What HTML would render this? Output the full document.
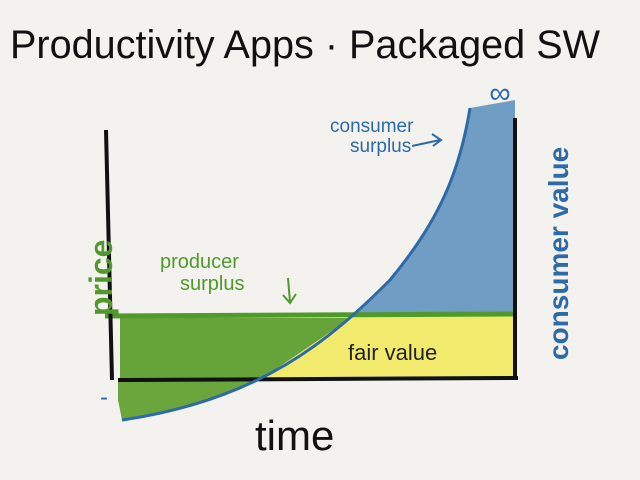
<!DOCTYPE html>
<html><head><meta charset="utf-8"><style>
html,body{margin:0;padding:0;background:#f4f2ef;}
svg{display:block}
text{font-family:"Liberation Sans",sans-serif}
</style></head><body>
<svg width="640" height="480" viewBox="0 0 640 480" xmlns="http://www.w3.org/2000/svg">
<rect width="640" height="480" fill="#f4f2ef"/>
<text x="10" y="58" font-size="40" fill="#111" textLength="590" lengthAdjust="spacingAndGlyphs">Productivity Apps · Packaged SW</text>
<!-- blue consumer surplus region -->
<path d="M350,316 Q372,298 390,280 C440,220 460,170 470,108 L515,100 L515,315 Z" fill="#6f9dc4"/>
<!-- yellow fair value -->
<path d="M350,316 L515,315 L515,378 L262,378 Q305,350 350,316 Z" fill="#f2ea6c"/>
<!-- green producer surplus -->
<path d="M120,318 L350,318 Q305,350 262,378 L120,378 Z" fill="#66a43a"/>
<path d="M118,378 L262,378 Q200,410 122,420 L118,400 Z" fill="#6aa63c"/>
<line x1="105" y1="316" x2="515" y2="314" stroke="#4f9a2a" stroke-width="5"/>
<line x1="106" y1="130" x2="112" y2="380" stroke="#111" stroke-width="4"/>
<line x1="118" y1="380" x2="518" y2="378" stroke="#111" stroke-width="4"/>
<line x1="515" y1="118" x2="515" y2="380" stroke="#111" stroke-width="4"/>
<path d="M122,420 C260,400 330,340 390,280 C440,220 460,170 470,108" fill="none" stroke="#2d6aa6" stroke-width="3"/>
<text x="500" y="103" font-size="30" fill="#2d6aa6" text-anchor="middle">∞</text>
<text x="100" y="405" font-size="24" fill="#2d6aa6">-</text>
<text font-size="32" fill="#4f9a2a" transform="translate(112,316) rotate(-90)" font-weight="bold">price</text>
<text font-size="28" fill="#2d6aa6" transform="translate(568,360) rotate(-90)" font-weight="bold">consumer value</text>
<text x="160" y="268" font-size="20" fill="#4f9a2a">producer</text>
<text x="180" y="290" font-size="20" fill="#4f9a2a">surplus</text>
<path d="M288,278 L290,302 M283,295 L290,303 L296,294" stroke="#4f9a2a" stroke-width="2" fill="none"/>
<text x="330" y="132" font-size="19" fill="#2d6aa6">consumer</text>
<text x="350" y="152" font-size="19" fill="#2d6aa6">surplus</text>
<path d="M412,146 L440,140 M432,134 L441,140 L433,146" stroke="#2d6aa6" stroke-width="2" fill="none"/>
<text x="348" y="360" font-size="22" fill="#222">fair value</text>
<text x="255" y="450" font-size="42" fill="#111">time</text>
</svg>
</body></html>
